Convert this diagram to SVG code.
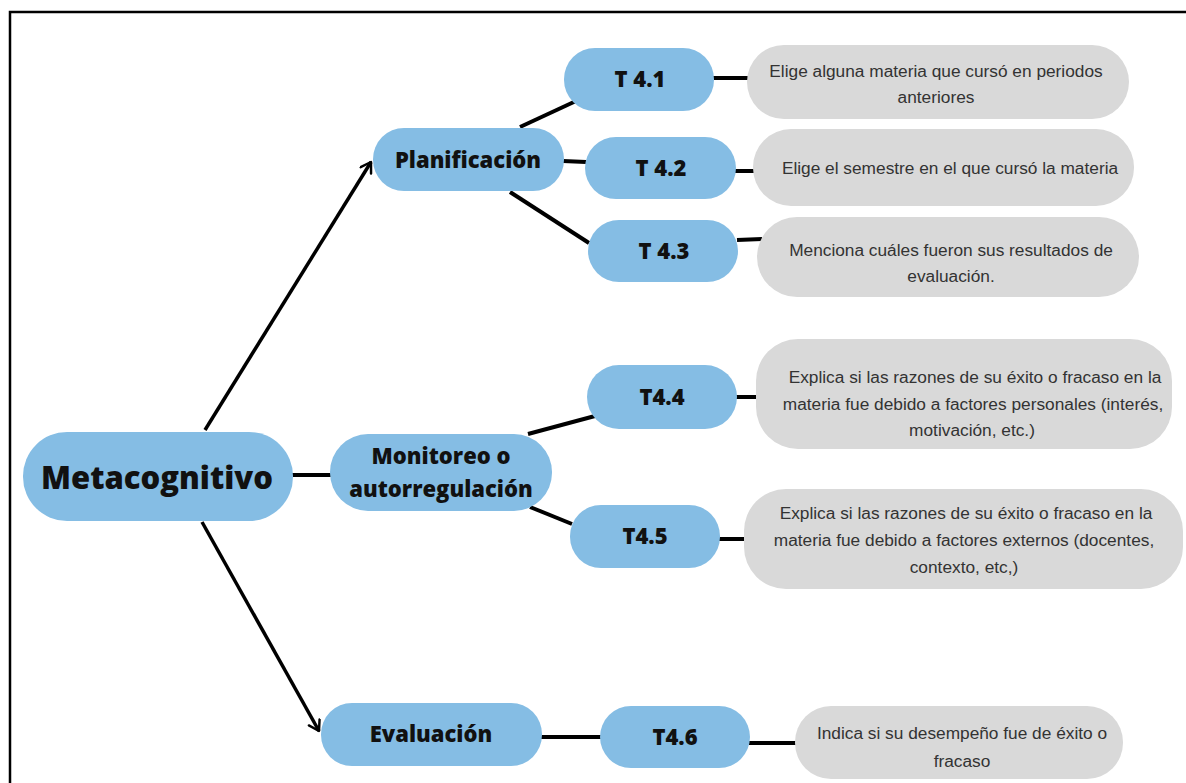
<svg xmlns="http://www.w3.org/2000/svg" width="1186" height="783" viewBox="0 0 1186 783">
  <style>
    .blue { fill: #85bde4; }
    .grey { fill: #d9d9d9; }
    .lbl { font-family: "Open Sans", "DejaVu Sans", sans-serif; font-weight: 800; fill: #111; text-anchor: middle; }
    .txt { font-family: "Liberation Sans", Arial, sans-serif; font-size: 17.3px; fill: #333; text-anchor: middle; }
    .link { stroke: #000; stroke-width: 4; fill: none; }
    .arrow { stroke: #000; stroke-width: 3.5; fill: none; }
  </style>
  <defs>
    <marker id="chev" viewBox="0 0 12 12" refX="10" refY="6" markerWidth="4.2" markerHeight="4.2" markerUnits="strokeWidth" orient="auto">
      <path d="M2,1 L10,6 L2,11" stroke="#000" stroke-width="2" fill="none" stroke-linecap="round" stroke-linejoin="round"/>
    </marker>
  </defs>

  <rect width="1186" height="783" fill="#fff"/>
  <!-- outer frame, running off the right and bottom edges -->
  <path d="M10,783 V12 H1186" stroke="#000" stroke-width="2.5" fill="none"/>

  <g id="connectors">
    <line class="arrow" x1="205" y1="430" x2="371" y2="162" marker-end="url(#chev)"/>
    <line class="arrow" x1="202" y1="522" x2="319" y2="731" marker-end="url(#chev)"/>
    <line class="link" x1="292" y1="475" x2="331" y2="475"/>
    <line class="link" x1="520" y1="127" x2="576" y2="101"/>
    <line class="link" x1="563" y1="161" x2="586" y2="162"/>
    <line class="link" x1="510" y1="192" x2="589" y2="243"/>
    <line class="link" x1="713" y1="78" x2="749" y2="78"/>
    <line class="link" x1="734" y1="171" x2="754" y2="171"/>
    <line class="link" x1="737" y1="240" x2="762" y2="239"/>
    <line class="link" x1="528" y1="434" x2="595" y2="416"/>
    <line class="link" x1="530" y1="507" x2="572" y2="524"/>
    <line class="link" x1="736" y1="397" x2="757" y2="397"/>
    <line class="link" x1="718" y1="539" x2="745" y2="539"/>
    <line class="link" x1="540" y1="737" x2="602" y2="737"/>
    <line class="link" x1="749" y1="743" x2="796" y2="743"/>
  </g>

  <g id="metacognitivo">
    <rect class="blue" x="23" y="432" width="270" height="89" rx="44"/>
    <text class="lbl" x="157" y="489" font-size="31">Metacognitivo</text>
  </g>

  <g id="planificacion">
    <rect class="blue" x="373" y="128" width="191" height="63" rx="31"/>
    <text class="lbl" x="468" y="168" font-size="22">Planificación</text>
  </g>

  <g id="monitoreo">
    <rect class="blue" x="330" y="434" width="222" height="77" rx="38"/>
    <text class="lbl" x="441" y="464" font-size="22">Monitoreo o</text>
    <text class="lbl" x="441" y="497" font-size="22">autorregulación</text>
  </g>

  <g id="evaluacion">
    <rect class="blue" x="321" y="703" width="221" height="63" rx="31"/>
    <text class="lbl" x="431" y="742" font-size="22">Evaluación</text>
  </g>

  <g id="t41">
    <rect class="blue" x="564" y="48" width="150" height="63" rx="31"/>
    <text class="lbl" x="640" y="87" font-size="22">T 4.1</text>
  </g>
  <g id="t42">
    <rect class="blue" x="585" y="137" width="151" height="62" rx="31"/>
    <text class="lbl" x="661" y="176" font-size="22">T 4.2</text>
  </g>
  <g id="t43">
    <rect class="blue" x="588" y="220" width="150" height="62" rx="31"/>
    <text class="lbl" x="664" y="259" font-size="22">T 4.3</text>
  </g>
  <g id="t44">
    <rect class="blue" x="587" y="365" width="150" height="64" rx="32"/>
    <text class="lbl" x="662" y="405" font-size="22">T4.4</text>
  </g>
  <g id="t45">
    <rect class="blue" x="570" y="505" width="150" height="63" rx="31"/>
    <text class="lbl" x="645" y="544" font-size="22">T4.5</text>
  </g>
  <g id="t46">
    <rect class="blue" x="600" y="706" width="150" height="62" rx="31"/>
    <text class="lbl" x="675" y="745" font-size="22">T4.6</text>
  </g>

  <g id="d41">
    <rect class="grey" x="747" y="45" width="382" height="74" rx="37"/>
    <text class="txt" x="936" y="77">Elige alguna materia que cursó en periodos</text>
    <text class="txt" x="936" y="103">anteriores</text>
  </g>
  <g id="d42">
    <rect class="grey" x="753" y="129" width="381" height="77" rx="38"/>
    <text class="txt" x="950" y="174">Elige el semestre en el que cursó la materia</text>
  </g>
  <g id="d43">
    <rect class="grey" x="757" y="217" width="382" height="80" rx="40"/>
    <text class="txt" x="951" y="256">Menciona cuáles fueron sus resultados de</text>
    <text class="txt" x="951" y="282">evaluación.</text>
  </g>
  <g id="d44">
    <rect class="grey" x="756" y="339" width="416" height="110" rx="42"/>
    <text class="txt" x="975" y="383">Explica si las razones de su éxito o fracaso en la</text>
    <text class="txt" x="973" y="410">materia fue debido a factores personales (interés,</text>
    <text class="txt" x="972" y="436">motivación, etc.)</text>
  </g>
  <g id="d45">
    <rect class="grey" x="744" y="489" width="439" height="100" rx="42"/>
    <text class="txt" x="966" y="519">Explica si las razones de su éxito o fracaso en la</text>
    <text class="txt" x="964" y="546">materia fue debido a factores externos (docentes,</text>
    <text class="txt" x="964" y="573">contexto, etc,)</text>
  </g>
  <g id="d46">
    <rect class="grey" x="795" y="706" width="328" height="73" rx="36"/>
    <text class="txt" x="962" y="739">Indica si su desempeño fue de éxito o</text>
    <text class="txt" x="962" y="767">fracaso</text>
  </g>
</svg>
